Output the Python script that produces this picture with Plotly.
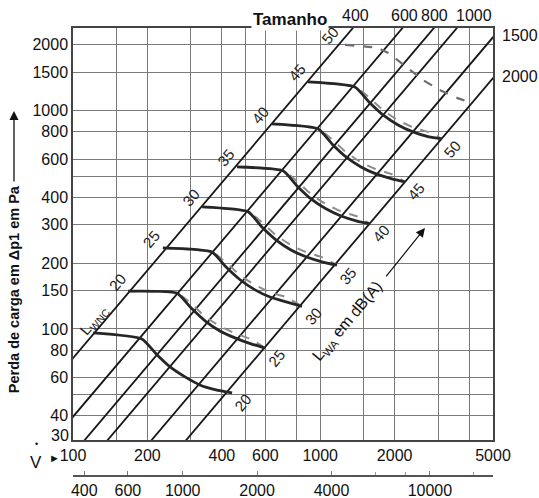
import numpy as np
import plotly.graph_objects as go

# ---------------- data ----------------
# Size lines ("Tamanho"): flow (l/s) where each line crosses 100 Pa, common log-log slope
size_labels = [400, 600, 800, 1000, 1500, 2000]
size_flow_at_100pa = [126, 200, 268, 332, 500, 690]
size_slope = 1.336

# main axis ticks (flow in l/s, pressure loss in Pa)
flow_ticks = [100, 150, 200, 300, 400, 500, 600, 800, 1000, 1500, 2000, 3000, 4000, 5000]
flow_ticklabels = ['100', '', '200', '', '400', '', '600', '', '1000', '', '2000', '', '', '5000']
dp_ticks = [40, 50, 60, 80, 100, 150, 200, 300, 400, 500, 600, 800, 1000, 1500, 2000]
dp_ticklabels = ['40', '', '60', '80', '100', '150', '200', '300', '400', '', '600', '800', '1000', '1500', '2000']
# secondary flow axis (m3/h)
flow_m3h_ticks = [400, 600, 1000, 2000, 4000, 10000]
flow_m3h_minor = [6000, 8000, 15000]

# sound power curves: flow (l/s) and pressure loss (Pa)
curve_flows = [
    [120.5, 190, 217, 247, 284, 326, 379, 440],
    [167, 263, 300, 342, 393, 452, 525, 598],
    [231, 365, 416, 474, 545, 627, 727, 844],
    [333, 511, 581, 662, 762, 876, 1017, 1169],
    [461, 707, 806, 918, 1055, 1214, 1409, 1590],
    [638, 980, 1116, 1272, 1462, 1681, 1952, 2203],
    [893, 1382, 1575, 1795, 2064, 2373, 2754, 3109],
]
curve_dps = [
    [95.9, 90.0, 76.8, 67.0, 60.3, 55.4, 52.6, 50.9],
    [149, 146, 125, 109, 97.9, 91.0, 85.4, 81.8],
    [235, 225, 192, 168, 151, 140, 133, 127],
    [362, 344, 293, 256, 230, 214, 203, 196],
    [552, 530, 452, 394, 355, 329, 312, 303],
    [869, 825, 704, 614, 552, 513, 487, 472],
    [1354, 1284, 1096, 956, 860, 799, 758, 742],
]
# dashed companion curves (same flows, slightly different pressure loss)
companion_dps = [
    None,
    [149, 146, 131, 114, 103, 95.5, 89.7, 81.8],
    [235, 225, 202, 176, 159, 147, 140, 127],
    [362, 344, 308, 269, 242, 225, 213, 196],
    [552, 530, 475, 414, 373, 345, 328, 303],
    [869, 825, 739, 645, 580, 539, 511, 472],
    [1354, 1284, 1151, 1004, 903, 839, 796, 742],
]
# top curve, dashed only
top_dashed_flow = [1260, 1697, 1881, 2308, 2605, 3051, 3576, 4111]
top_dashed_dp = [2000, 1938, 1838, 1537, 1382, 1244, 1144, 1085]

lwnc_labels = [None, '20', '25', '30', '35', '40', '45']
lwa_labels = ['20', '25', '30', '35', '40', '45', '50']
top_curve_lwnc = '50'

# ---------------- figure ----------------
FLOW_MIN, FLOW_MAX = 100, 5000
DP_MIN, DP_MAX = 31, 2390

fig = go.Figure()

# size lines
for v100 in size_flow_at_100pa:
    pts = [20, 3000]
    v = [v100 * (p / 100) ** (1 / size_slope) for p in pts]
    fig.add_trace(go.Scatter(x=v, y=pts, mode='lines',
                             line=dict(color='#161616', width=1.8),
                             hoverinfo='skip', showlegend=False))

# dashed companions
for fl, dp in zip(curve_flows, companion_dps):
    if dp is None:
        continue
    fig.add_trace(go.Scatter(x=fl, y=dp, mode='lines',
                             line=dict(color='#8c8c8c', width=2, dash='dash', shape='spline', smoothing=0.5),
                             hoverinfo='skip', showlegend=False))
fig.add_trace(go.Scatter(x=top_dashed_flow, y=top_dashed_dp, mode='lines',
                         line=dict(color='#6e6e6e', width=2.2, dash='dash', shape='spline', smoothing=0.5),
                         hoverinfo='skip', showlegend=False))

# solid curves
for fl, dp in zip(curve_flows, curve_dps):
    fig.add_trace(go.Scatter(x=fl, y=dp, mode='lines',
                             line=dict(color='#262626', width=2.8, shape='spline', smoothing=0.5),
                             hoverinfo='skip', showlegend=False))

# dummy trace for the secondary (m3/h) axis
fig.add_trace(go.Scatter(x=flow_m3h_ticks, y=[100] * len(flow_m3h_ticks), xaxis='x2', yaxis='y',
                         mode='markers', marker=dict(opacity=0), hoverinfo='skip', showlegend=False))

ann = []
lab_font = dict(family='Liberation Sans, Arial, sans-serif', size=15, color='#222')

# curve labels
for fl, dp, l1, l2 in zip(curve_flows, curve_dps, lwnc_labels, lwa_labels):
    if l1:
        ann.append(dict(x=np.log10(fl[0]), y=np.log10(dp[0]), xref='x', yref='y', text=l1,
                        showarrow=False, textangle=-50, font=lab_font, xshift=-11, yshift=9,
                        xanchor='center', yanchor='middle'))
    if l2:
        ann.append(dict(x=np.log10(fl[-1]), y=np.log10(dp[-1]), xref='x', yref='y', text=l2,
                        showarrow=False, textangle=-50, font=lab_font, xshift=11, yshift=-10,
                        xanchor='center', yanchor='middle'))
ann.append(dict(x=np.log10(top_dashed_flow[0]), y=np.log10(top_dashed_dp[0]), xref='x', yref='y',
                text=top_curve_lwnc, showarrow=False, textangle=-50, font=lab_font, xshift=-15, yshift=9,
                xanchor='center', yanchor='middle'))

# size line labels (top edge or right edge)
top_nudge = [3, 2, 1, 17]
i_top = 0
for lab, v100 in zip(size_labels, size_flow_at_100pa):
    v_cross = v100 * (DP_MAX / 100) ** (1 / size_slope)
    if v_cross <= FLOW_MAX:
        ann.append(dict(x=np.log10(v_cross), y=1.0268, xref='x', yref='paper', text=str(lab),
                        showarrow=False, xanchor='center', yanchor='middle',
                        xshift=top_nudge[i_top], font=dict(size=16, color='#111')))
        i_top += 1
    else:
        p_cross = 100 * (FLOW_MAX / v100) ** size_slope
        ann.append(dict(x=1, y=np.log10(p_cross), xref='paper', yref='y', text=str(lab),
                        showarrow=False, xanchor='left', yanchor='middle', xshift=7, yshift=2,
                        font=dict(size=16, color='#111')))

C = dict(xanchor='center', yanchor='middle')
ann += [
    dict(x=0.5167, y=1.0179, xref='paper', yref='paper', text='Tamanho', showarrow=False,
         bgcolor='white', font=dict(size=17, color='#111', weight='bold'), **C),
    dict(x=-0.1405, y=0.417, xref='paper', yref='paper', text='Perda de carga em Δp1 em Pa',
         showarrow=False, textangle=-90, font=dict(size=14.5, color='#111', weight='bold'), **C),
    dict(x=-0.1405, y=0.815, xref='paper', yref='paper', text='', showarrow=True,
         ax=0, ay=72, arrowhead=2, arrowsize=1.4, arrowwidth=1.3, arrowcolor='#111'),
    dict(x=0, y=0.0893, xref='paper', yref='paper', text='30', showarrow=False,
         xanchor='right', yanchor='middle', xshift=-2, font=dict(size=16, color='#111')),
    dict(x=-0.088, y=0.031, xref='paper', yref='paper', text='V', showarrow=False,
         font=dict(size=17, color='#111'), **C),
    dict(x=-0.088, y=0.072, xref='paper', yref='paper', text='•', showarrow=False,
         font=dict(size=9, color='#111'), borderpad=0, **C),
    dict(x=-0.045, y=0.040, xref='paper', yref='paper', text='►', showarrow=False,
         font=dict(size=11, color='#111'), **C),
    dict(x=0.05, y=0.348, xref='paper', yref='paper', text='L<sub>WNC</sub>', showarrow=False,
         textangle=-50, font=dict(size=15, color='#222'), **C),
    dict(x=0.6548, y=0.3438, xref='paper', yref='paper', text='L<sub>WA</sub> em dB(A)', showarrow=False,
         textangle=-50, font=dict(size=16, color='#111'), **C),
    dict(x=0.838, y=0.5536, xref='paper', yref='paper', text='', showarrow=True,
         ax=-40, ay=50, arrowhead=2, arrowsize=1.5, arrowwidth=1.2, arrowcolor='#111'),
]

grid = dict(showgrid=True, gridcolor='#7a7a7a', gridwidth=1.2, zeroline=False, automargin=False,
            showline=True, mirror=True, linecolor='#444', linewidth=1.5, ticks='')

fig.update_layout(
    width=539, height=498, autosize=False,
    margin=dict(l=73, r=46, t=28, b=22, pad=0, autoexpand=False),
    paper_bgcolor='white', plot_bgcolor='white', showlegend=False,
    font=dict(family='Liberation Sans, Arial, sans-serif', size=16, color='#111'),
    xaxis=dict(type='log', range=[np.log10(FLOW_MIN), np.log10(FLOW_MAX)],
               tickmode='array', tickvals=flow_ticks, ticktext=flow_ticklabels,
               anchor='y', **grid),
    yaxis=dict(type='log', range=[np.log10(DP_MIN), np.log10(DP_MAX)], domain=[36 / 448, 1],
               tickmode='array', tickvals=dp_ticks, ticktext=dp_ticklabels, **grid),
    xaxis2=dict(type='log', overlaying='x', anchor='free', position=0, side='bottom', automargin=False,
                range=[np.log10(FLOW_MIN * 3.6), np.log10(FLOW_MAX * 3.6)],
                tickmode='array', tickvals=flow_m3h_ticks, ticktext=[str(t) for t in flow_m3h_ticks],
                showgrid=False, zeroline=False, showline=True, linecolor='#555', linewidth=1.5,
                ticks='inside', ticklen=4, tickcolor='#777',
                minor=dict(tickvals=flow_m3h_minor, ticks='inside', ticklen=3, tickcolor='#999')),
    annotations=ann,
)

fig.write_html('out.html', config={'responsive': False, 'displayModeBar': False},
               default_width='539px', default_height='498px',
               post_script="document.body.style.margin='0px';document.body.style.padding='0px';")
